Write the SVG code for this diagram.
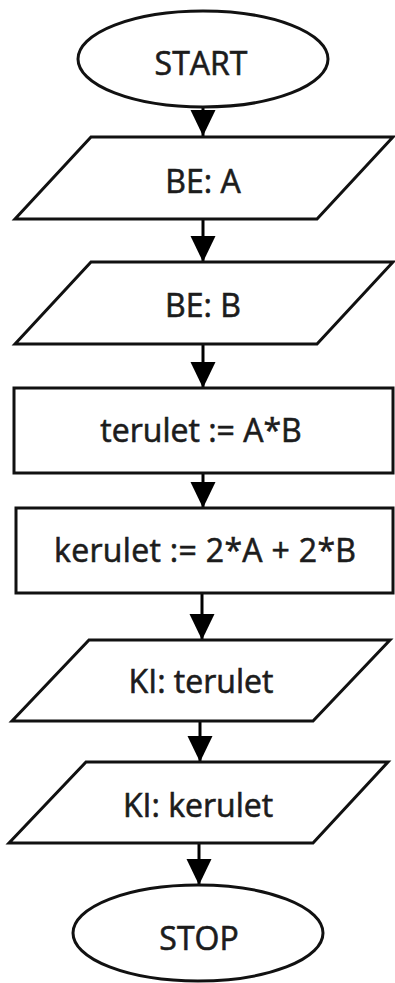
<svg xmlns="http://www.w3.org/2000/svg" width="395" height="983" viewBox="0 0 395 983">
<style>
.shape{fill:#fff;stroke:#111;stroke-width:3;stroke-linejoin:miter}
.lbl{font-family:"Open Sans","DejaVu Sans",sans-serif;font-size:32px;fill:#1c1c1c;stroke:#1c1c1c;stroke-width:0.6;text-anchor:middle}
.conn{stroke:#000;stroke-width:3;fill:none}
</style>
<defs>
<marker id="arr" markerUnits="userSpaceOnUse" markerWidth="28" markerHeight="28" viewBox="0 0 28 28" refX="26" refY="14" orient="auto">
<path d="M0,1.5 L26,14 L0,26.5 Z" fill="#000"/>
</marker>
</defs>
<rect width="395" height="983" fill="#fff"/>
<g id="connectors">
<line class="conn" x1="203" y1="107" x2="203" y2="136" marker-end="url(#arr)"/>
<line class="conn" x1="203" y1="219" x2="203" y2="262" marker-end="url(#arr)"/>
<line class="conn" x1="203" y1="344" x2="203" y2="388" marker-end="url(#arr)"/>
<line class="conn" x1="203" y1="473" x2="203" y2="508" marker-end="url(#arr)"/>
<line class="conn" x1="202" y1="593" x2="202" y2="640" marker-end="url(#arr)"/>
<line class="conn" x1="200" y1="721" x2="200" y2="762" marker-end="url(#arr)"/>
<line class="conn" x1="199" y1="843" x2="199" y2="885" marker-end="url(#arr)"/>
</g>
<g id="start">
<ellipse class="shape" cx="203" cy="59" rx="125" ry="48"/>
<text class="lbl" x="201" y="75">START</text>
</g>
<g id="be-a">
<polygon class="shape" points="91,137 393,137 317,219 15,219"/>
<text class="lbl" x="203" y="193">BE: A</text>
</g>
<g id="be-b">
<polygon class="shape" points="91,262 393,262 317,344 15,344"/>
<text class="lbl" x="203" y="317">BE: B</text>
</g>
<g id="terulet">
<rect class="shape" x="14" y="388" width="379" height="85"/>
<text class="lbl" x="201" y="442">terulet := A*B</text>
</g>
<g id="kerulet">
<rect class="shape" x="16" y="508" width="377" height="85"/>
<text class="lbl" x="205" y="562" textLength="302" lengthAdjust="spacing">kerulet := 2*A + 2*B</text>
</g>
<g id="ki-terulet">
<polygon class="shape" points="89,640 390,640 313,721 12,721"/>
<text class="lbl" x="201" y="693">KI: terulet</text>
</g>
<g id="ki-kerulet">
<polygon class="shape" points="86,762 388,762 313,843 9,843"/>
<text class="lbl" x="198" y="817">KI: kerulet</text>
</g>
<g id="stop">
<ellipse class="shape" cx="198" cy="933" rx="125" ry="48"/>
<text class="lbl" x="199" y="950">STOP</text>
</g>
</svg>
